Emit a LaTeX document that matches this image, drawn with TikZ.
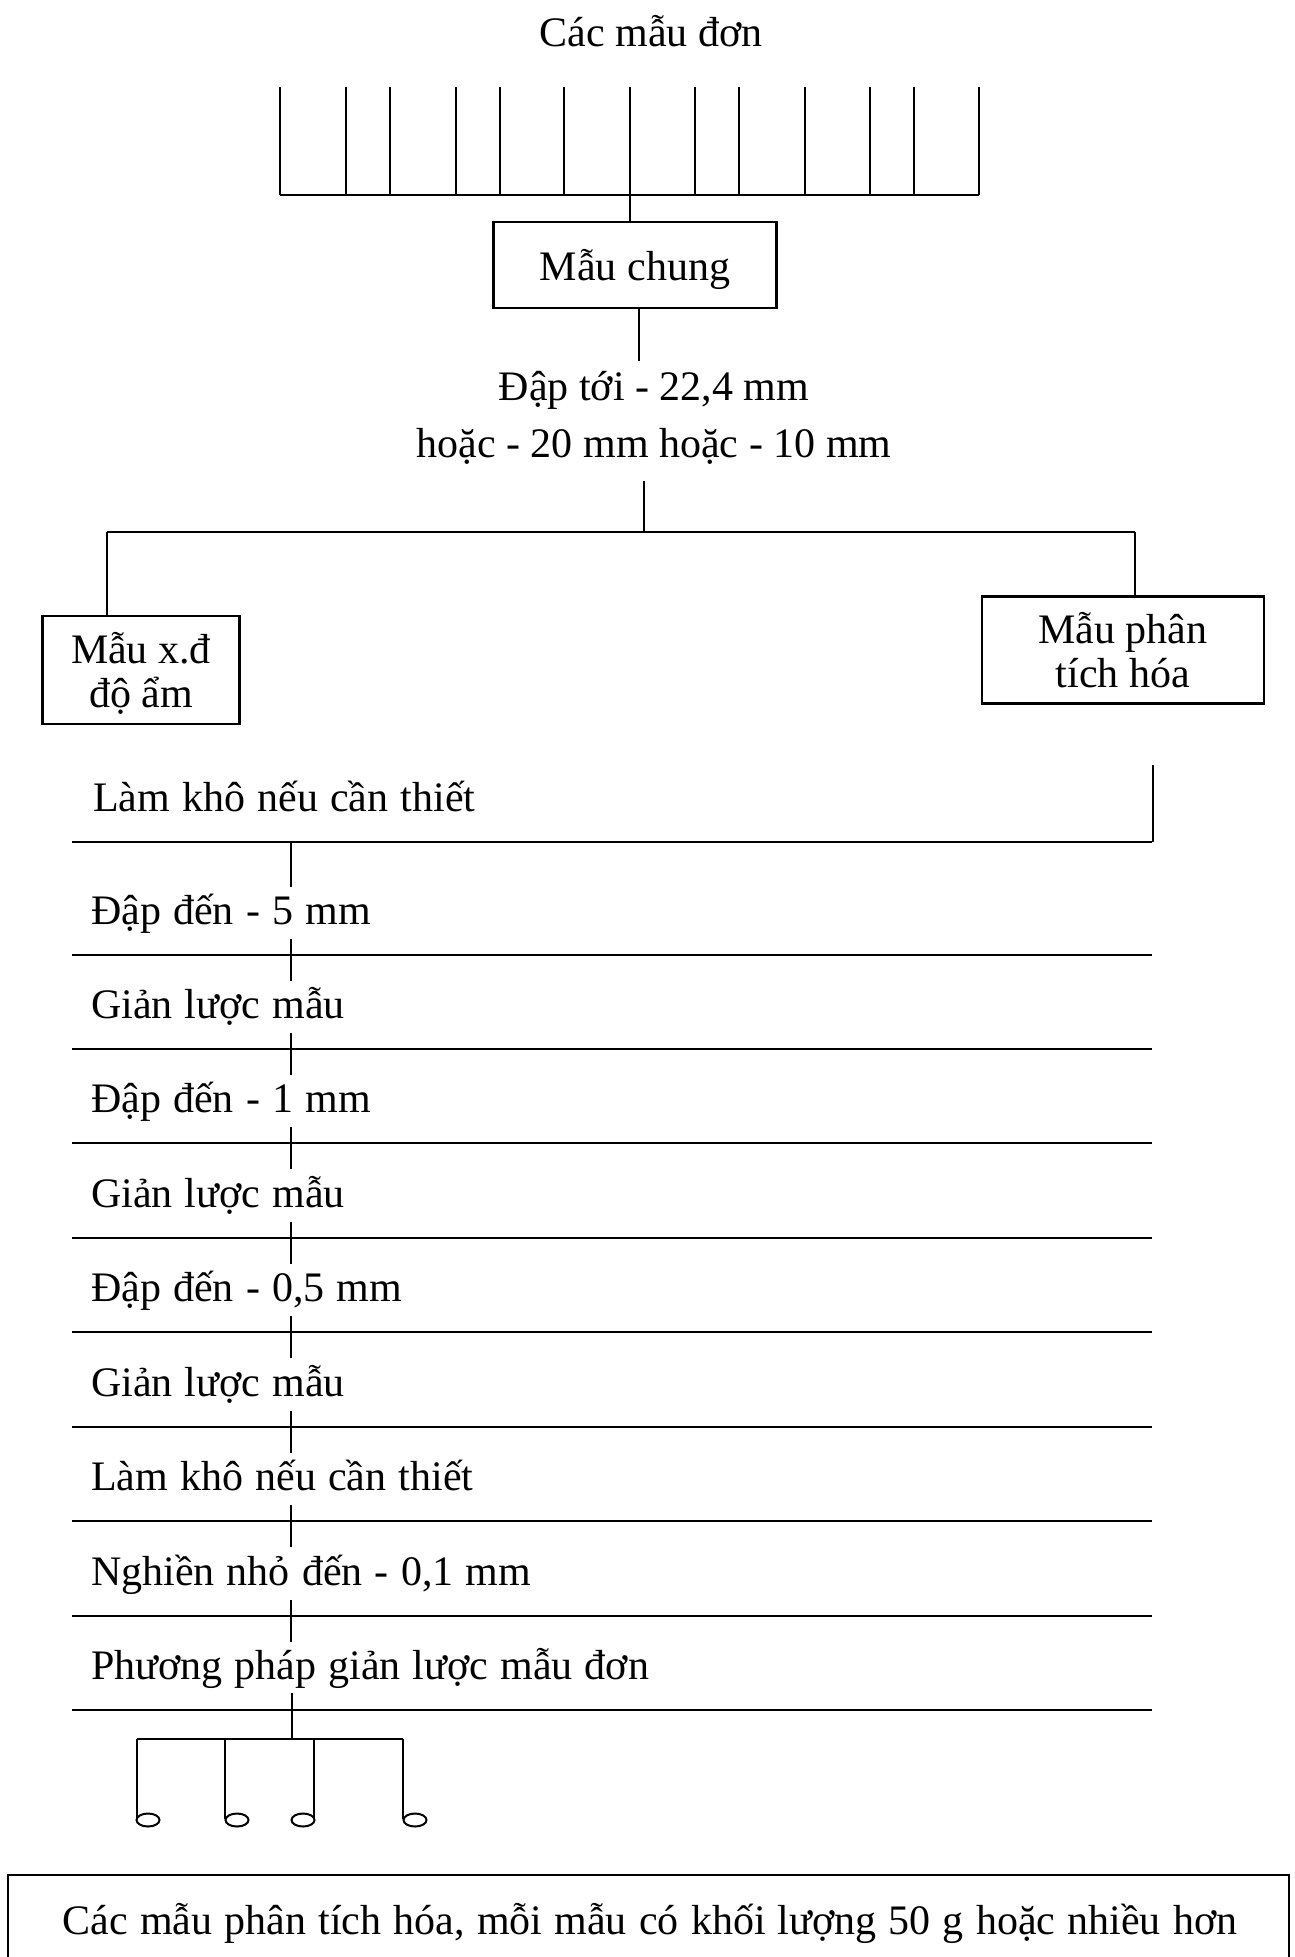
\documentclass[tikz,border=0pt]{standalone}
\usepackage{fontspec}
\setmainfont{Liberation Serif}
\newcommand\myWideSpace{\spaceskip=0.29em plus 0.1em minus 0.05em\relax}
\begin{document}
\begin{tikzpicture}[x=1pt,y=-1pt,line width=2.2pt,
  lbl/.style={inner sep=0pt,font=\fontsize{42}{44}\selectfont},
  steptext/.style={inner sep=0pt,anchor=base west,font=\fontsize{42}{44}\selectfont\myWideSpace},
  boxnode/.style={draw,line width=2.2pt,align=center,inner sep=0pt,text depth=0pt,font=\fontsize{42}{44}\selectfont},
  sample/.style={line width=2pt}]
\fill[white] (0,0) rectangle (1294,1957);
\path[use as bounding box] (0,0) rectangle (1294,1957);

% title and top comb
\node[lbl,anchor=base] (title) at (651,46) {Các mẫu đơn};
\foreach \x [count=\i] in {280,346,390,456,500,564,630,695,739,805,870,914,979}{
  \coordinate (ct\i) at (\x,87);
  \coordinate (cb\i) at (\x,195);
  \draw (ct\i) -- (cb\i);
}
\draw (cb1) -- (cb13);

% Mau chung
\node[boxnode,minimum width=283,minimum height=86] (mc) at (635,265) {Mẫu chung};
\draw (cb7) -- (cb7 |- mc.north);

% crushing text
\node[lbl,anchor=base] (d1a) at (654,400) {Đập tới - 22,4 mm};
\node[lbl,anchor=base] (d1b) at (654,457) {hoặc - 20 mm hoặc - 10 mm};
\coordinate (s1) at (639,361);
\draw (mc.south -| s1) -- (s1);
\coordinate (s2) at (644,481);
\coordinate (bj) at (644,532);
\draw (s2) -- (bj);

% split bar
\coordinate (bl) at (107,532);
\coordinate (br) at (1135,532);
\draw (bl) -- (br);
\node[boxnode,minimum width=197,minimum height=108] (mx) at (141,670) {Mẫu x.đ\\độ ẩm};
\node[boxnode,minimum width=282,minimum height=107] (mp) at (1123,650) {Mẫu phân\\tích hóa};
\draw (bl) -- (bl |- mx.north);
\draw (br) -- (br |- mp.north);

% ladder of steps
\coordinate (rv) at (1153,765);
\foreach \y [count=\i] in {842,955,1049,1143,1238,1332,1427,1521,1616,1710}{
  \coordinate (hl\i) at (72,\y);
  \coordinate (hr\i) at (1152,\y);
  \draw (hl\i) -- (hr\i);
}
\draw (rv) -- (rv |- hr1);

\node[steptext] (t0) at (92,811) {Làm khô nếu cần thiết};
\node[steptext] (t1) at (90,924) {Đập đến - 5 mm};
\node[steptext] (t2) at (90,1018) {Giản lược mẫu};
\node[steptext] (t3) at (90,1112) {Đập đến - 1 mm};
\node[steptext] (t4) at (90,1207) {Giản lược mẫu};
\node[steptext] (t5) at (90,1301) {Đập đến - 0,5 mm};
\node[steptext] (t6) at (90,1396) {Giản lược mẫu};
\node[steptext] (t7) at (90,1490) {Làm khô nếu cần thiết};
\node[steptext] (t8) at (90,1585) {Nghiền nhỏ đến - 0,1 mm};
\node[steptext] (t9) at (90,1679) {Phương pháp giản lược mẫu đơn};

\draw (291,842) coordinate (va1) -- (291,887) coordinate (vb1);
\foreach \y [count=\i from 2] in {955,1049,1143,1238,1332,1427,1521,1616}{
  \coordinate (va\i) at (291,\y-16);
  \coordinate (vb\i) at (291,\y+26);
  \draw (va\i) -- (vb\i);
}

% bottom comb with samples
\coordinate (lt) at (292,1693);
\coordinate (lj) at (292,1739);
\draw (lt) -- (lj);
\coordinate (k1) at (137,1739);
\coordinate (k4) at (403,1739);
\draw (k1) -- (k4);
\foreach \x/\cx [count=\i] in {137/148,225/237,314/303,403/415}{
  \coordinate (kt\i) at (\x,1739);
  \coordinate (ke\i) at (\cx,1820);
  \draw (kt\i) -- (\x,1819);
  \draw[sample] (ke\i) ellipse [x radius=11.5pt,y radius=6.5pt];
}

% final box
\node[steptext,anchor=base] (fin) at (650,1934) {Các mẫu phân tích hóa, mỗi mẫu có khối lượng 50 g hoặc nhiều hơn};
\coordinate (f1) at (8,1957);
\coordinate (f2) at (8,1875);
\coordinate (f3) at (1289,1875);
\coordinate (f4) at (1289,1957);
\draw (f1) -- (f2) -- (f3) -- (f4);
\end{tikzpicture}
\end{document}
